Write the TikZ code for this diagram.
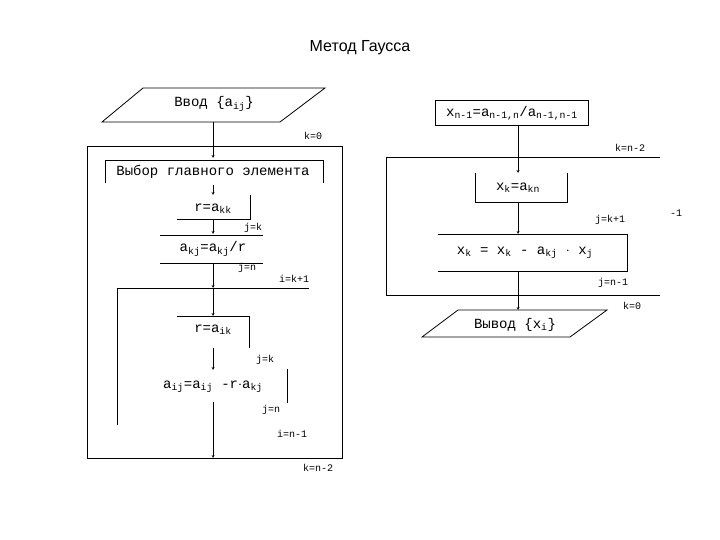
\documentclass[tikz,border=0pt]{standalone}
\usepackage{fontspec}
\setmainfont{Liberation Mono}
\newfontfamily\titlefont{Liberation Sans}
\usetikzlibrary{arrows, positioning}
\newcommand{\sbs}[1]{\textsubscript{#1}}
\tikzstyle{txt} = [inner sep=1pt, font=\fontsize{14}{16}\selectfont]
\tikzstyle{lbl} = [inner sep=1pt, font=\fontsize{10}{11}\selectfont]
\tikzstyle{arrow} = [->,>=stealth]
\tikzstyle{line} = [line width=0.8pt]
\begin{document}
\begin{tikzpicture}[x=1pt,y=-1pt]
\useasboundingbox (0,0) rectangle (720,540);

\node (title) [font=\titlefont\fontsize{16}{18}\selectfont] at (360,48) {Метод Гаусса};

% left part: forward elimination
\draw [line] (143,88) -- (325,88) -- (280,122) -- (102,122) -- cycle;
\node (input) [txt] at (214,104) {Ввод \{a\sbs{ij}\}};
\coordinate (in) at (213,122);
\coordinate (kt) at (213,158);
\draw [line] (87,146) rectangle (342,458);
\node (k0) [lbl] at (313,136) {k=0};
\node (kn) [lbl] at (318,468) {k=n-2};
\draw [line] (105,183) -- (105,160) -- (323,160) -- (323,183);
\node (choose) [txt] at (213,172) {Выбор главного элемента};
\coordinate (c1) at (213,185);
\coordinate (c2) at (213,195);
\draw [line] (250,195) -- (250,219) -- (177,219);
\node (rkk) [txt] at (213,209) {r=a\sbs{kk}};
\coordinate (r1) at (213,219);
\coordinate (r2) at (213,234);
\node (jk1) [lbl] at (253,228) {j=k};
\draw [line] (160,235) -- (263,235);
\draw [line] (160,263) -- (263,263);
\node (akj) [txt] at (213,249) {a\sbs{kj}=a\sbs{kj}/r};
\node (jn1) [lbl] at (247,268) {j=n};
\coordinate (a1) at (213,263);
\coordinate (a2) at (213,288);
\node (ik) [lbl] at (294,279) {i=k+1};
\draw [line] (117,425) -- (117,288) -- (309,288);
\draw [line] (177,316) -- (249,316) -- (249,348);
\node (rik) [txt] at (213,330) {r=a\sbs{ik}};
\coordinate (b1) at (213,288);
\coordinate (b2) at (213,316);
\coordinate (b3) at (213,348);
\coordinate (b4) at (213,370);
\node (jk2) [lbl] at (265,360) {j=k};
\draw [line] (287,369) -- (287,403);
\node (aij) [txt] at (213,387) {a\sbs{ij}=a\sbs{ij} -r$\cdot$a\sbs{kj}};
\node (jn2) [lbl] at (271,410) {j=n};
\node (in1) [lbl] at (292,434) {i=n-1};
\coordinate (d1) at (213,402);
\coordinate (d2) at (213,458);

\draw [arrow] (in) -- (kt);
\draw [arrow] (c1) -- (c2);
\draw [arrow] (r1) -- (r2);
\draw [arrow] (a1) -- (a2);
\draw [arrow] (b1) -- (b2);
\draw [arrow] (b3) -- (b4);
\draw [arrow] (d1) -- (d2);

% right part: back substitution
\node (xn) [txt, draw, line width=0.8pt, minimum width=153pt, minimum height=25pt] at (512,113) {x\sbs{n-1}=a\sbs{n-1,n}/a\sbs{n-1,n-1}};
\coordinate (e1) at (518,125);
\coordinate (e2) at (518,173);
\draw [line] (660,157) -- (386,157) -- (386,295) -- (660,295);
\node (kn2) [lbl] at (630,148) {k=n-2};
\node (m1) [lbl] at (676,213) {-1};
\node (k02) [lbl] at (632,306) {k=0};
\draw [line] (475,173) -- (475,202) -- (567,202) -- (567,173);
\node (xk) [txt] at (518,188) {x\sbs{k}=a\sbs{kn}};
\coordinate (f1) at (518,202);
\coordinate (f2) at (518,234);
\node (jk3) [lbl] at (610,220) {j=k+1};
\draw [line] (438,234) -- (627,234) -- (627,271) -- (438,271);
\node (xkj) [txt] at (525,253) {x\sbs{k} = x\sbs{k} - a\sbs{kj} $\cdot$ x\sbs{j}};
\node (jn3) [lbl] at (613,283) {j=n-1};
\coordinate (g1) at (518,271);
\coordinate (g2) at (518,310);
\draw [line] (458,310) -- (607,310) -- (570,337) -- (422,337) -- cycle;
\node (output) [txt] at (515,325) {Вывод \{x\sbs{i}\}};

\draw [arrow] (e1) -- (e2);
\draw [arrow] (f1) -- (f2);
\draw [arrow] (g1) -- (g2);

\end{tikzpicture}
\end{document}
